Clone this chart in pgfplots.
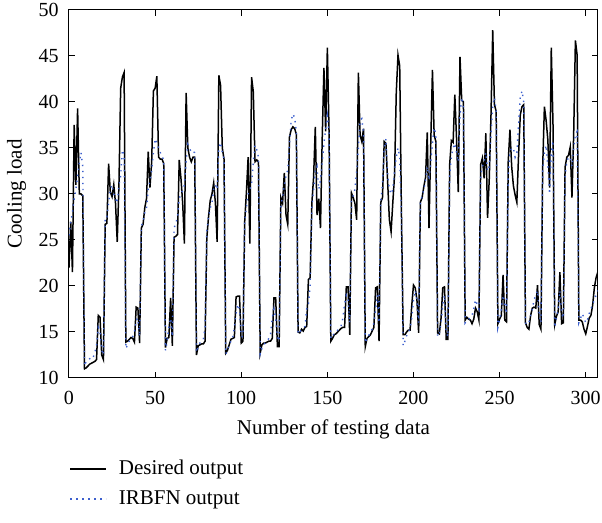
\documentclass[border=0pt]{standalone}
\usepackage{pgfplots}
\pgfplotsset{compat=1.18}
\usepackage{pgfplotstable}
\usepackage{fontspec}
\setmainfont{Liberation Serif}

\definecolor{irbfnblue}{RGB}{60,95,205}

% columns: index, desired output, IRBFN output
\pgfplotstableread{
i D I
0 22.0 25.5
1 27.0 27.0
2 21.5 28.0
3 37.5 29.5
4 31.0 30.5
5 39.3 32.0
6 30.0 33.4
7 30.0 34.5
8 29.8 33.0
9 11.0 11.3
10 11.1 11.8
11 11.3 12.0
12 11.5 12.1
13 11.6 12.0
14 11.7 12.2
15 11.8 12.8
16 12.0 13.5
17 16.8 15.5
18 16.6 15.0
19 12.5 13.0
20 12.0 12.5
21 26.7 27.5
22 26.8 27.5
23 33.3 29.0
24 30.2 30.5
25 29.7 31.0
26 31.0 30.0
27 29.0 29.5
28 24.8 29.0
29 31.0 31.0
30 41.5 32.0
31 42.7 34.8
32 43.2 34.3
33 13.9 13.2
34 14.0 13.6
35 14.2 14.0
36 14.4 14.3
37 14.3 14.5
38 13.9 15.0
39 17.7 16.3
40 17.6 16.5
41 13.8 14.5
42 26.3 26.5
43 26.7 27.0
44 28.5 28.0
45 29.5 28.5
46 34.6 30.5
47 30.7 31.5
48 33.5 32.5
49 41.2 34.5
50 41.5 36.0
51 42.8 35.5
52 34.0 35.0
53 33.8 34.5
54 33.8 34.0
55 33.3 33.8
56 13.3 13.0
57 14.3 14.0
58 14.4 15.5
59 18.7 16.5
60 13.5 14.5
61 25.3 26.3
62 25.4 26.8
63 25.6 27.5
64 33.7 29.5
65 31.7 30.0
66 29.0 30.4
67 24.6 31.0
68 41.0 33.5
69 35.0 35.4
70 34.0 35.0
71 33.5 34.5
72 34.0 34.6
73 34.0 34.5
74 12.5 12.8
75 13.5 13.4
76 13.6 13.8
77 13.7 14.0
78 13.7 14.2
79 14.0 15.5
80 25.2 26.0
81 27.5 27.5
82 29.3 28.5
83 30.0 29.0
84 31.2 30.5
85 29.0 31.0
86 24.8 30.5
87 42.9 35.0
88 41.8 35.6
89 35.0 34.5
90 33.8 33.8
91 12.7 12.6
92 13.0 13.0
93 13.6 13.6
94 14.2 14.0
95 14.3 14.3
96 14.4 15.5
97 18.8 17.0
98 18.9 18.0
99 18.9 17.5
100 13.8 14.5
101 14.0 14.5
102 27.0 27.0
103 30.2 28.5
104 34.0 30.0
105 24.6 30.5
106 42.7 31.0
107 41.1 33.5
108 33.5 35.3
109 33.7 34.8
110 33.5 34.0
111 12.7 12.6
112 13.6 13.2
113 13.8 13.6
114 13.8 13.8
115 13.9 14.0
116 14.0 14.3
117 14.0 14.8
118 14.3 16.5
119 18.7 17.5
120 18.7 16.5
121 13.4 14.5
122 13.4 14.0
123 29.6 29.0
124 29.0 29.5
125 32.3 31.0
126 27.7 32.0
127 26.7 32.6
128 36.2 35.5
129 37.0 38.0
130 37.3 38.7
131 37.1 38.3
132 36.5 36.7
133 15.0 14.8
134 14.9 15.0
135 15.3 15.2
136 15.1 15.4
137 15.5 15.6
138 15.6 17.5
139 20.7 18.0
140 20.9 20.0
141 29.0 28.5
142 31.8 30.5
143 37.3 32.5
144 27.7 33.0
145 29.5 30.5
146 26.3 31.5
147 36.0 33.5
148 43.7 35.5
149 36.8 37.0
150 45.9 38.5
151 36.5 36.5
152 14.0 14.3
153 14.3 14.6
154 14.7 14.8
155 14.8 15.0
156 15.0 15.2
157 15.2 15.5
158 15.4 15.7
159 15.5 16.5
160 15.5 18.0
161 19.9 19.0
162 19.9 18.5
163 14.7 16.0
164 30.1 29.5
165 29.6 29.8
166 29.0 30.5
167 27.2 32.5
168 43.2 35.0
169 36.4 38.0
170 35.7 38.2
171 37.1 36.5
172 13.4 13.8
173 14.3 14.3
174 14.5 14.6
175 14.7 15.0
176 15.1 15.3
177 15.5 16.0
178 19.8 17.5
179 19.9 19.0
180 14.0 16.0
181 29.1 29.3
182 29.6 31.0
183 35.7 35.0
184 35.5 36.0
185 31.3 32.0
186 27.2 30.5
187 25.9 30.0
188 29.1 30.5
189 32.0 32.5
190 41.0 34.0
191 45.1 35.0
192 43.9 34.0
193 28.0 27.5
194 14.7 13.5
195 14.7 14.0
196 15.0 14.6
197 15.2 15.0
198 15.2 15.3
199 17.9 16.5
200 20.1 18.5
201 19.8 19.5
202 18.5 18.5
203 14.9 16.0
204 29.1 29.0
205 29.6 29.8
206 30.8 30.5
207 31.8 31.5
208 36.7 33.0
209 26.3 31.5
210 35.3 33.5
211 43.5 35.5
212 36.4 37.2
213 35.7 36.5
214 14.9 14.5
215 14.8 14.8
216 16.5 16.0
217 19.8 18.0
218 19.9 19.0
219 14.2 15.0
220 14.2 14.5
221 33.2 32.0
222 35.8 34.0
223 35.6 35.0
224 40.8 35.5
225 36.0 34.5
226 30.2 33.5
227 44.9 38.5
228 40.2 40.5
229 40.0 39.5
230 16.3 16.0
231 16.6 16.3
232 16.4 16.4
233 16.3 16.5
234 15.9 16.8
235 16.4 17.5
236 17.6 18.5
237 17.2 18.0
238 16.3 17.5
239 33.2 32.0
240 33.9 33.0
241 31.7 33.5
242 36.6 34.5
243 27.4 32.5
244 31.7 33.0
245 38.6 36.5
246 47.8 39.5
247 39.7 40.5
248 39.0 39.0
249 15.9 15.5
250 16.4 16.3
251 16.8 17.5
252 21.2 19.0
253 16.3 18.0
254 16.1 17.0
255 33.5 32.0
256 37.0 34.5
257 33.0 35.0
258 30.9 35.0
259 29.9 34.0
260 29.1 34.5
261 34.2 37.5
262 38.6 40.5
263 39.5 41.2
264 39.7 40.0
265 16.0 16.0
266 15.5 15.8
267 15.3 16.0
268 16.8 16.8
269 17.6 17.5
270 17.7 18.5
271 17.6 19.0
272 20.1 19.5
273 15.8 17.0
274 15.3 16.0
275 32.9 32.5
276 39.5 34.5
277 38.0 35.3
278 35.9 33.0
279 30.7 30.0
280 45.9 34.5
281 37.5 35.8
282 15.8 15.5
283 16.7 16.5
284 17.2 17.5
285 21.5 19.5
286 15.9 17.0
287 16.0 16.5
288 32.9 32.0
289 34.0 33.5
290 34.2 34.0
291 35.1 34.0
292 29.6 33.0
293 36.5 35.0
294 46.7 36.5
295 45.1 36.8
296 16.3 16.0
297 16.3 16.5
298 16.1 17.0
299 15.3 16.5
300 14.8 16.0
301 15.6 16.3
302 16.5 17.0
303 16.8 17.5
304 17.9 18.0
305 19.8 18.5
306 20.9 19.0
307 21.5 19.5
}\cooling

\begin{document}
\fontsize{10.5}{12.6}\selectfont
\begin{tikzpicture}
\useasboundingbox (0,0) rectangle (301pt,261.5pt);
\begin{axis}[
  at={(34.5pt,72.5pt)}, anchor=south west,
  scale only axis,
  width=264.4pt, height=184pt,
  xmin=0, xmax=307, ymin=10, ymax=50,
  xtick={0,50,...,300},
  ytick={10,15,...,50},
  tick align=inside,
  major tick length=2.8pt,
  every tick/.style={black, line width=0.5pt},
  axis line style={line width=0.5pt},
  /pgf/number format/assume math mode=true,
  tick label style={font=\fontsize{10}{12}\selectfont},
  xticklabel style={yshift=-3pt},
  yticklabel style={xshift=-1.5pt},
  xlabel={Number of testing data},
  ylabel={Cooling load},
  ylabel style={xshift=0pt, yshift=-1pt},
  legend style={at={(0,0)}, anchor=north west, yshift=-40pt,
    draw=none, fill=none, inner sep=0pt, row sep=4.5pt, column sep=6pt,
    nodes={inner sep=0pt, text height=8pt, text depth=2.5pt},
    font=\fontsize{10.5}{12.6}\selectfont},
  legend cell align=left,
  legend image code/.code={\draw[#1] (0pt,0pt) -- (18pt,0pt);},
]
\addplot[black, line width=0.75pt] table[x=i, y=D] {\cooling};
\addlegendentry{Desired output}
\addplot[irbfnblue, line width=0.7pt, dash pattern=on 0.7pt off 2.3pt] table[x=i, y=I] {\cooling};
\addlegendentry{IRBFN output}
\end{axis}
\end{tikzpicture}
\end{document}
